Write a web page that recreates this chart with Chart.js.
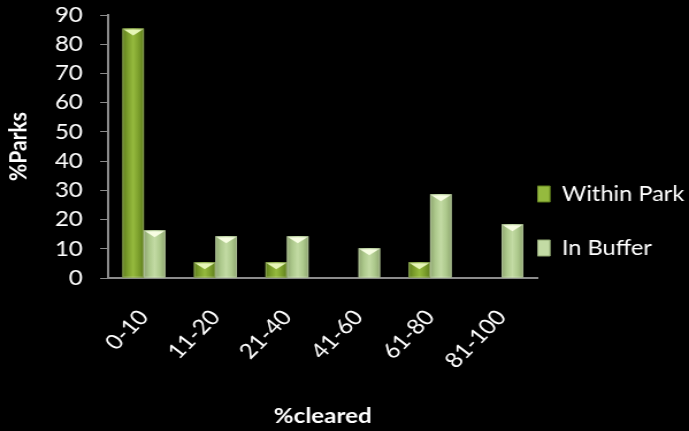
<!DOCTYPE html>
<html>
<head>
<meta charset="utf-8">
<script src="https://cdn.jsdelivr.net/npm/chart.js@4/dist/chart.umd.min.js"></script>
<style>
  html, body { margin: 0; padding: 0; background: #000; overflow: hidden; }
  /* the chart is drawn a little narrower and widened to the page */
  #wrap { width: 599px; height: 431px; transform: scaleX(1.15025); transform-origin: 0 0; }
</style>
</head>
<body>
<div id="wrap"><canvas id="c" width="599" height="431"></canvas></div>
<script>
const categories = ['0-10', '11-20', '21-40', '41-60', '61-80', '81-100'];
const withinPark = [85.4, 5.4, 5.4, 0, 5.4, 0];
const inBuffer = [16.3, 14.3, 14.3, 10.2, 28.7, 18.4];
const yTicks = [0, 10, 20, 30, 40, 50, 60, 70, 80, 90];

const FONT = 'Lato, "Open Sans", sans-serif';

// Base colours with lighter centre and darker edges for a rounded look
const styles = [
  { base: '#7c9f2c', edge: '#5e7d1c', mid: '#95ba3e', cap: 'rgba(235,250,190,0.95)' },
  { base: '#adc98c', edge: '#8ea56f', mid: '#c3dba4', cap: 'rgba(250,255,230,0.95)' }
];

// Shade each bar: horizontal gradient plus a bright chevron on top
const barShading = {
  id: 'barShading',
  afterDatasetsDraw(chart) {
    const ctx = chart.ctx;
    chart.data.datasets.forEach((ds, di) => {
      const st = styles[di];
      chart.getDatasetMeta(di).data.forEach(bar => {
        const h = bar.base - bar.y;
        if (h <= 0.5) return;
        const l = bar.x - bar.width / 2, r = bar.x + bar.width / 2;
        ctx.save();
        const g = ctx.createLinearGradient(l, 0, r, 0);
        g.addColorStop(0, st.edge);
        g.addColorStop(0.25, st.base);
        g.addColorStop(0.5, st.mid);
        g.addColorStop(0.75, st.base);
        g.addColorStop(1, st.edge);
        ctx.fillStyle = g;
        ctx.fillRect(l, bar.y, bar.width, h);
        const capH = Math.min(7, h * 0.6);
        ctx.fillStyle = st.cap;
        ctx.beginPath();
        ctx.moveTo(l + 1, bar.y + 1);
        ctx.lineTo(r - 1, bar.y + 1);
        ctx.lineTo(bar.x, bar.y + capH);
        ctx.closePath();
        ctx.fill();
        ctx.strokeStyle = 'rgba(255,255,255,0.25)';
        ctx.lineWidth = 1;
        ctx.strokeRect(l + 0.5, bar.y + 0.5, bar.width - 1, h - 1);
        ctx.restore();
      });
    });
  }
};

new Chart(document.getElementById('c'), {
  type: 'bar',
  data: {
    labels: categories,
    datasets: [
      { label: 'Within Park', data: withinPark, backgroundColor: styles[0].base, borderWidth: 0 },
      { label: 'In Buffer', data: inBuffer, backgroundColor: styles[1].base, borderWidth: 0 }
    ]
  },
  options: {
    responsive: false,
    animation: false,
    devicePixelRatio: 1,
    layout: { padding: { left: 4, top: 15, right: -6, bottom: 2 } },
    datasets: { bar: { categoryPercentage: 0.6, barPercentage: 1.0 } },
    plugins: {
      tooltip: { enabled: false },
      legend: {
        position: 'right',
        // empty title only pushes the two entries down a little
        title: { display: true, text: '', font: { size: 10, lineHeight: 1.35 }, padding: 10 },
        labels: {
          color: '#fff',
          font: { family: FONT, size: 20.5, lineHeight: 2.732 },
          boxWidth: 13,
          boxHeight: 16,
          padding: -2,
          generateLabels(chart) {
            return chart.data.datasets.map((ds, i) => ({
              text: [ds.label],
              fillStyle: styles[i].mid,
              strokeStyle: styles[i].edge,
              lineWidth: 1,
              fontColor: '#fff',
              datasetIndex: i
            }));
          }
        }
      }
    },
    scales: {
      x: {
        afterFit(scale) { scale.height = 151; scale.paddingLeft = 0; scale.paddingRight = 0; },
        grid: { display: false, drawOnChartArea: false, drawTicks: true, tickLength: 9, tickColor: '#8c8c8c', offset: true },
        border: { color: '#8c8c8c', width: 2 },
        ticks: { color: '#fff', font: { family: FONT, size: 21 }, maxRotation: 49, minRotation: 49, padding: 18, autoSkip: false },
        title: { display: true, text: '%cleared', color: '#fff', font: { family: FONT, size: 21, weight: 'bold' }, padding: { top: 4, bottom: 0 } }
      },
      y: {
        min: 0, max: 90,
        afterFit(scale) { scale.width = 90; scale.paddingTop = 0; scale.paddingBottom = 0; },
        afterBuildTicks(scale) { scale.ticks = yTicks.map(v => ({ value: v })); },
        grid: { drawOnChartArea: false, drawTicks: true, tickLength: 7, tickColor: '#8c8c8c' },
        border: { color: '#8c8c8c', width: 2 },
        ticks: { color: '#fff', font: { family: FONT, size: 21 }, padding: 15, autoSkip: false },
        title: { display: true, text: '%Parks', color: '#fff', font: { family: FONT, size: 21, weight: 'bold' }, padding: { top: 0, bottom: 4 } }
      }
    }
  },
  plugins: [barShading]
});
</script>
</body>
</html>
